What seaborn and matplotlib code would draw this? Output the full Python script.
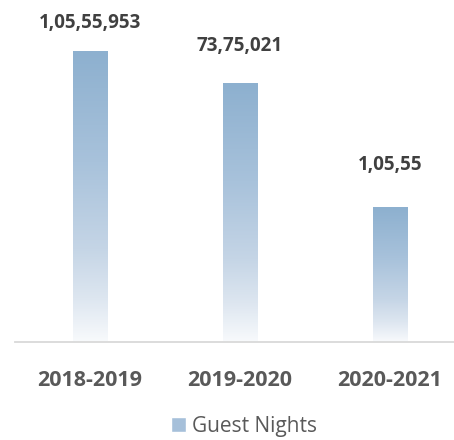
import numpy as np
import pandas as pd
import seaborn as sns
import matplotlib.pyplot as plt
from matplotlib.colors import LinearSegmentedColormap
from matplotlib.patches import Patch

years = ['2018-2019', '2019-2020', '2020-2021']
bar_heights = [10555953, 9395000, 4897000]
value_labels = ['1,05,55,953', '73,75,021', '1,05,55']
series_name = 'Guest Nights'

df = pd.DataFrame({'year': years, 'nights': bar_heights})

sns.set_style('white')
plt.rcParams['font.family'] = ['Open Sans', 'DejaVu Sans']

fig = plt.figure(figsize=(4.54, 4.40), dpi=100)
ax = fig.add_axes([15 / 454, 98 / 440, 1 - 15 / 454, 342 / 440])

sns.barplot(data=df, x='year', y='nights', width=0.227, color='#9db9d6', ax=ax)

# gradient fill: blue at top, fading to white at the base
grad = LinearSegmentedColormap.from_list(
    'fade', [(0.0, '#f8fafc'), (0.15, '#dde6f0'), (0.32, '#c5d5e6'),
             (0.62, '#a8c2db'), (1.0, '#8db0cf')])
ramp = np.linspace(0, 1, 256).reshape(-1, 1)
for p in ax.patches:
    x0, w, h = p.get_x(), p.get_width(), p.get_height()
    p.set_facecolor('none')
    p.set_edgecolor('none')
    im = ax.imshow(ramp, cmap=grad, origin='lower', aspect='auto',
                   extent=[x0, x0 + w, 0, h], zorder=2)
    im.set_clip_path(p)

ax.set_xlim(-0.5, -0.5 + 439 / 150)
ax.set_ylim(0, 12406000)

# value labels above bars (pixel gaps as in the original)
gaps = [28, 37, 42]
for i, (h, lab) in enumerate(zip(bar_heights, value_labels)):
    ax.annotate(lab, (i, h), xytext=(0, gaps[i] * 0.72), textcoords='offset points',
                ha='center', va='center', fontsize=13.5, fontweight='bold', color='#404040')

sns.despine(ax=ax, left=True, top=True, right=True)
ax.spines['bottom'].set_color('#d9d9d9')
ax.spines['bottom'].set_linewidth(1.3)
ax.set_yticks([])
ax.set_xlabel('')
ax.set_ylabel('')
ax.tick_params(axis='x', length=0, pad=20, labelsize=15.5, labelcolor='#595959')
for t in ax.get_xticklabels():
    t.set_fontweight('bold')

fig.legend(handles=[Patch(facecolor='#a6c0da', label=series_name)],
           loc='center', bbox_to_anchor=(244 / 454, 1 - 426 / 440),
           frameon=False, fontsize=15, labelcolor='#595959',
           handlelength=0.7, handleheight=0.7, handletextpad=0.3)

fig.savefig('out.png', dpi=100)
